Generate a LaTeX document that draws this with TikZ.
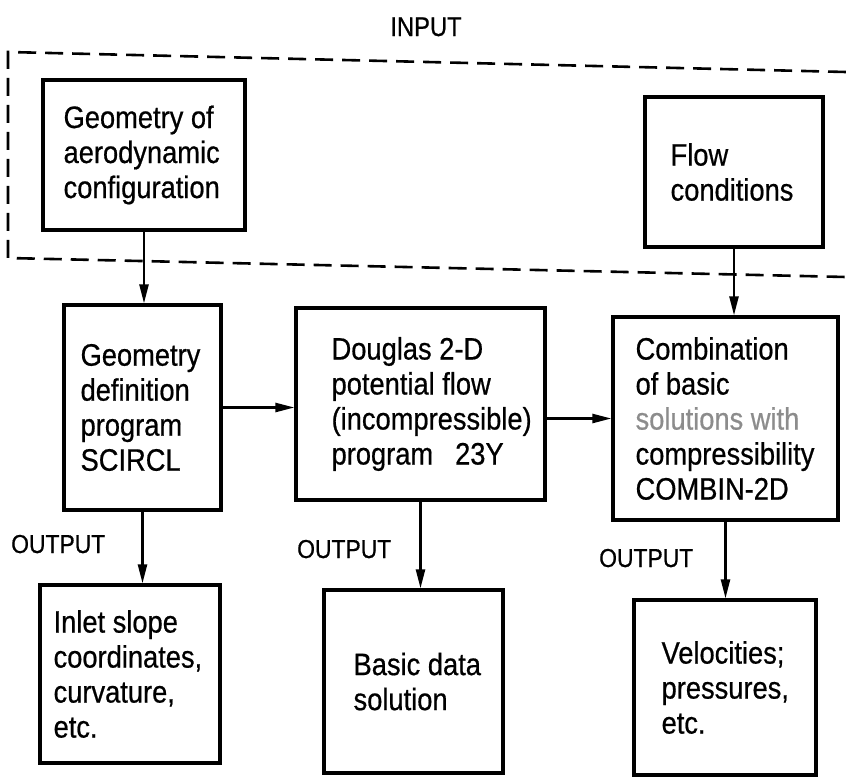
\documentclass[tikz,border=0pt]{standalone}
\usepackage{fontspec}
\setmainfont{Liberation Sans}[FakeStretch=0.88,FakeBold=0.6]
\usetikzlibrary{arrows.meta}
\begin{document}
\begin{tikzpicture}[x=1pt,y=-1pt,
  box/.style={draw, line width=3.2pt, inner sep=0pt},
  txt/.style={inner sep=0pt, align=left, anchor=west, font=\fontsize{31}{35}\selectfont},
  lbl/.style={inner sep=0pt, anchor=base west, font=\fontsize{26}{30}\selectfont},
  arr/.style={line width=2.4pt, -{Triangle[length=19pt,width=9pt]}},
  dashline/.style={line width=2.6pt, dash pattern=on 18pt off 9pt}]
\useasboundingbox (0,0) rectangle (846,779);

% INPUT title and dashed frame
\node[inner sep=0pt, anchor=base, font=\fontsize{27}{30}\selectfont] (input) at (426,36) {INPUT};
\coordinate (d1) at (846,72);
\coordinate (d2) at (8,52);
\coordinate (d3) at (8,258);
\coordinate (d4) at (846,277);
\draw[dashline] (d1) -- (d2) -- (d3) -- (d4);

% input boxes
\node[box, minimum width=202pt, minimum height=150pt] (geo) at (144,155) {};
\node[txt] (geot) at ([xshift=22pt]geo.west) {Geometry of\\aerodynamic\\configuration};

\node[box, minimum width=178pt, minimum height=150pt] (flow) at (734,172) {};
\node[txt] (flowt) at ([xshift=27pt]flow.west) {Flow\\conditions};

% program boxes
\node[box, minimum width=157pt, minimum height=205pt] (gdef) at (142.5,407.5) {};
\node[txt] (gdeft) at ([xshift=18pt]gdef.west) {Geometry\\definition\\program\\SCIRCL};

\node[box, minimum width=249pt, minimum height=192pt] (doug) at (420.5,404) {};
\node[txt] (dougt) at ([xshift=37pt]doug.west) {Douglas 2-D\\potential flow\\(incompressible)\\program\hspace{22pt}23Y};

\node[box, minimum width=225pt, minimum height=203pt] (comb) at (725.5,418.5) {};
\node[txt] (combt) at ([xshift=24pt]comb.west) {Combination\\of basic\\\textcolor{black!45}{solutions with}\\compressibility\\COMBIN-2D};

% output boxes
\node[box, minimum width=180pt, minimum height=178pt] (inlet) at (130,674) {};
\node[txt] (inlett) at ([xshift=15pt]inlet.west) {Inlet slope\\coordinates,\\curvature,\\etc.};

\node[box, minimum width=179pt, minimum height=183pt] (basic) at (413.5,681.5) {};
\node[txt] (basict) at ([xshift=31pt]basic.west) {Basic data\\solution};

\node[box, minimum width=182pt, minimum height=175pt] (vel) at (725,687.5) {};
\node[txt] (velt) at ([xshift=29pt]vel.west) {Velocities;\\pressures,\\etc.};

% OUTPUT labels
\node[lbl] (out1) at (11,553) {OUTPUT};
\node[lbl] (out2) at (297,558) {OUTPUT};
\node[lbl] (out3) at (599,567) {OUTPUT};

% connectors
\draw[arr] (geo.south) -- (geo.south |- gdef.north);
\draw[arr] (flow.south) -- (flow.south |- comb.north);
\draw[arr] (gdef.east) -- (gdef.east -| doug.west);
\draw[arr] (comb.west -| doug.east) -- (comb.west);
\draw[arr] (gdef.south) -- (gdef.south |- inlet.north);
\draw[arr] (doug.south) -- (doug.south |- basic.north);
\draw[arr] (comb.south) -- (comb.south |- vel.north);
\end{tikzpicture}
\end{document}
